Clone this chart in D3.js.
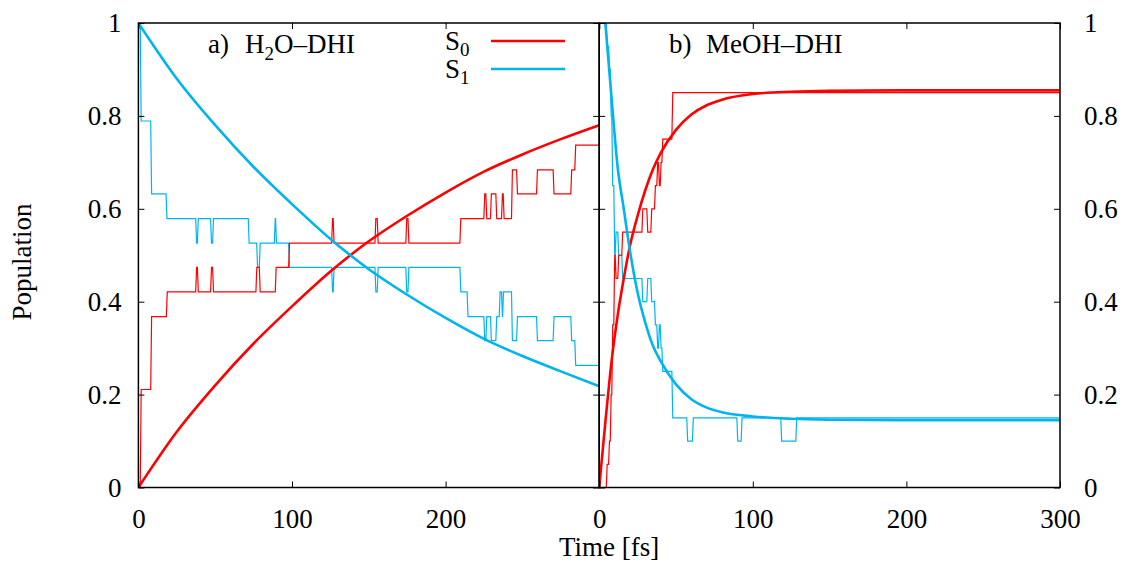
<!DOCTYPE html>
<html>
<head>
<meta charset="utf-8">
<script src="https://cdnjs.cloudflare.com/ajax/libs/d3/7.8.5/d3.min.js"></script>
<style>
body { margin: 0; background: #fff; }
svg text { font-family: "Liberation Serif", "DejaVu Serif", serif; fill: #000; }
</style>
</head>
<body>
<script>
// tick values
var timeTicks = [0, 100, 200, 300];
var popTicks = [0, 0.2, 0.4, 0.6, 0.8, 1];

// a) H2O-DHI : step populations, [time fs, new value]
var h2oS0Steps = [[0, 0], [1.2, 0.211], [8.0, 0.368], [18.2, 0.421], [37.3, 0.474], [38.4, 0.421],
    [47.0, 0.474], [48.3, 0.421], [76.5, 0.474], [78.7, 0.421], [89.1, 0.474], [97.8, 0.526],
    [125.8, 0.579], [126.8, 0.526], [154.0, 0.579], [155.5, 0.526], [174.1, 0.579], [175.5, 0.526],
    [209.3, 0.579], [224.9, 0.632], [226.2, 0.579], [229.2, 0.632], [232.7, 0.579], [236.4, 0.632],
    [237.5, 0.579], [242.9, 0.684], [246.2, 0.632], [259.2, 0.684], [270.0, 0.632], [281.5, 0.684],
    [284.1, 0.737]];
var h2oS1Steps = [[0, 1], [1.2, 0.789], [8.0, 0.632], [18.0, 0.579], [37.3, 0.526], [38.4, 0.579],
    [47.0, 0.526], [48.3, 0.579], [71.5, 0.526], [77.0, 0.474], [78.7, 0.526], [88.5, 0.579],
    [89.3, 0.526], [97.8, 0.474], [125.8, 0.421], [126.8, 0.474], [154.0, 0.421], [155.5, 0.474],
    [174.1, 0.421], [175.5, 0.474], [209.3, 0.421], [214.0, 0.368], [224.9, 0.316], [226.2, 0.368],
    [229.2, 0.316], [232.7, 0.368], [234.9, 0.421], [236.4, 0.368], [237.1, 0.421], [242.9, 0.316],
    [246.2, 0.368], [259.2, 0.316], [270.0, 0.368], [281.5, 0.316], [284.1, 0.263]];

// a) fitted curves
var h2oFitTime = [0, 25, 50, 75, 100, 125, 150, 175, 200, 225, 250, 275, 300];
var h2oS0Fit = [0, 0.12, 0.22, 0.31, 0.39, 0.465, 0.53, 0.585, 0.635, 0.68, 0.717, 0.75, 0.78];
var h2oS1Fit = [1.0, 0.88, 0.78, 0.69, 0.61, 0.535, 0.47, 0.415, 0.365, 0.32, 0.283, 0.25, 0.218];

// b) MeOH-DHI : step populations
var meohS0Steps = [[0, 0], [4.6, 0.05], [6.1, 0.1], [7.2, 0.2], [8.2, 0.35], [9.5, 0.5], [10.4, 0.45],
    [12.1, 0.5], [14.7, 0.55], [27.8, 0.6], [31.0, 0.55], [33.6, 0.6], [36.0, 0.65], [37.5, 0.7],
    [38.6, 0.65], [39.7, 0.7], [40.8, 0.75], [47.3, 0.85]];
var meohS1Steps = [[0, 1], [4.6, 0.95], [6.1, 0.9], [7.2, 0.8], [8.2, 0.65], [9.5, 0.5], [10.4, 0.55],
    [12.1, 0.5], [14.7, 0.45], [27.8, 0.4], [31.0, 0.45], [33.6, 0.4], [36.0, 0.35], [37.5, 0.3],
    [38.6, 0.35], [39.7, 0.3], [40.8, 0.25], [47.3, 0.15], [57.0, 0.1], [60.7, 0.15], [89.6, 0.1],
    [92.4, 0.15], [118.2, 0.1], [128.0, 0.15]];

// b) fitted curves
var meohFitTime = [0, 4, 8, 12, 16, 20, 25, 30, 35, 40, 50, 60, 70, 80, 100, 125, 150, 200, 300];
var meohS0Fit = [0, 0.14, 0.27, 0.37, 0.45, 0.52, 0.585, 0.64, 0.685, 0.72, 0.77, 0.803, 0.823, 0.835, 0.847, 0.852, 0.854, 0.855, 0.855];
var meohS1Fit = [1.15, 1.0, 0.84, 0.69, 0.6, 0.51, 0.42, 0.355, 0.305, 0.272, 0.222, 0.19, 0.172, 0.162, 0.153, 0.148, 0.146, 0.145, 0.145];

var width = 1124,
    height = 565;

var plotLeft = 138.4, plotMid = 599.2, plotRight = 1060,
    plotTop = 23, plotBottom = 487.5;

var red = "#ff0000",
    blue = "#00b4f0";

var serif = "'Liberation Serif', 'DejaVu Serif', serif";

var svg = d3.select("body").append("svg")
    .attr("width", width)
    .attr("height", height);

var y = d3.scaleLinear().domain([0, 1]).range([plotBottom, plotTop]);

var panels = [
    { id: "a", x0: plotLeft, x1: plotMid, s0: h2oS0Steps, s1: h2oS1Steps,
      fitT: h2oFitTime, f0: h2oS0Fit, f1: h2oS1Fit },
    { id: "b", x0: plotMid, x1: plotRight, s0: meohS0Steps, s1: meohS1Steps,
      fitT: meohFitTime, f0: meohS0Fit, f1: meohS1Fit }
];

// turn change points into a path with short ramps between levels
function stepPoints(steps, tEnd) {
    var ramp = 0.6;
    var pts = [steps[0]];
    for (var i = 1; i < steps.length; i++) {
        pts.push([steps[i][0], steps[i - 1][1]]);
        pts.push([steps[i][0] + ramp, steps[i][1]]);
    }
    pts.push([tEnd, steps[steps.length - 1][1]]);
    return pts;
}

panels.forEach(function (p) {
    var x = d3.scaleLinear().domain([0, 300]).range([p.x0, p.x1]);
    p.x = x;

    svg.append("clipPath")
        .attr("id", "clip-" + p.id)
        .append("rect")
        .attr("x", p.x0)
        .attr("y", plotTop)
        .attr("width", p.x1 - p.x0)
        .attr("height", plotBottom - plotTop);

    var g = svg.append("g").attr("clip-path", "url(#clip-" + p.id + ")");

    var line = d3.line()
        .x(function (d) { return x(d[0]); })
        .y(function (d) { return y(d[1]); });

    var smooth = d3.line()
        .x(function (d) { return x(d[0]); })
        .y(function (d) { return y(d[1]); })
        .curve(d3.curveMonotoneX);

    // thin step lines
    g.append("path")
        .attr("d", line(stepPoints(p.s1, 300)))
        .style("fill", "none")
        .style("stroke", blue)
        .style("stroke-width", 1.2);

    g.append("path")
        .attr("d", line(stepPoints(p.s0, 300)))
        .style("fill", "none")
        .style("stroke", red)
        .style("stroke-width", 1.2);

    // fits
    g.append("path")
        .attr("d", smooth(p.fitT.map(function (t, i) { return [t, p.f0[i]]; })))
        .style("fill", "none")
        .style("stroke", red)
        .style("stroke-width", 2.6);

    g.append("path")
        .attr("d", smooth(p.fitT.map(function (t, i) { return [t, p.f1[i]]; })))
        .style("fill", "none")
        .style("stroke", blue)
        .style("stroke-width", 2.6);
});

var xa = panels[0].x, xb = panels[1].x;
var tickLen = 6;

function styleAxis(sel) {
    sel.attr("font-family", serif).attr("font-size", 27);
    sel.select(".domain").remove();
    sel.selectAll("line").style("stroke", "#000").style("stroke-width", 1);
    sel.selectAll("text").style("font-family", serif).style("font-size", "27px");
}

// bottom axes
svg.append("g")
    .attr("transform", "translate(0," + plotBottom + ")")
    .call(d3.axisBottom(xa).tickValues(timeTicks).tickSize(-tickLen).tickPadding(21)
        .tickFormat(function (d) { return d === 300 ? "" : d; }))
    .call(styleAxis);

svg.append("g")
    .attr("transform", "translate(0," + plotBottom + ")")
    .call(d3.axisBottom(xb).tickValues(timeTicks).tickSize(-tickLen).tickPadding(21))
    .call(styleAxis);

// top ticks
[xa, xb].forEach(function (x) {
    svg.append("g")
        .attr("transform", "translate(0," + plotTop + ")")
        .call(d3.axisTop(x).tickValues(timeTicks).tickSize(-tickLen).tickFormat(""))
        .call(styleAxis);
});

// left axis
svg.append("g")
    .attr("transform", "translate(" + plotLeft + ",0)")
    .call(d3.axisLeft(y).tickValues(popTicks).tickSize(-tickLen).tickPadding(17)
        .tickFormat(function (d) { return String(d); }))
    .call(styleAxis);

// middle ticks, both sides
svg.append("g")
    .attr("transform", "translate(" + plotMid + ",0)")
    .call(d3.axisRight(y).tickValues(popTicks).tickSize(-tickLen).tickFormat(""))
    .call(styleAxis);
svg.append("g")
    .attr("transform", "translate(" + plotMid + ",0)")
    .call(d3.axisLeft(y).tickValues(popTicks).tickSize(-tickLen).tickFormat(""))
    .call(styleAxis);

// right axis
svg.append("g")
    .attr("transform", "translate(" + plotRight + ",0)")
    .call(d3.axisRight(y).tickValues(popTicks).tickSize(-tickLen).tickPadding(24)
        .tickFormat(function (d) { return String(d); }))
    .call(styleAxis);

// frames
panels.forEach(function (p) {
    svg.append("rect")
        .attr("x", p.x0)
        .attr("y", plotTop)
        .attr("width", p.x1 - p.x0)
        .attr("height", plotBottom - plotTop)
        .style("fill", "none")
        .style("stroke", "#000")
        .style("stroke-width", 1.5);
});

// axis titles
svg.append("text")
    .attr("x", plotMid + 10)
    .attr("y", 556)
    .attr("text-anchor", "middle")
    .style("font-size", "27px")
    .text("Time [fs]");

svg.append("text")
    .attr("transform", "translate(31,262) rotate(-90)")
    .attr("text-anchor", "middle")
    .style("font-size", "27px")
    .text("Population");

// panel labels
svg.append("text").attr("x", 208).attr("y", 53).style("font-size", "27px").text("a)");
var ta = svg.append("text").attr("x", 245).attr("y", 53).style("font-size", "27px");
ta.append("tspan").text("H");
ta.append("tspan").attr("dy", 7).style("font-size", "19px").text("2");
ta.append("tspan").attr("dy", -7).text("O\u2013DHI");

svg.append("text").attr("x", 669).attr("y", 53).style("font-size", "27px").text("b)");
svg.append("text").attr("x", 706).attr("y", 53).style("font-size", "27px").text("MeOH\u2013DHI");

// legend
var legend = [
    { label: "0", color: red, yy: 50, ly: 41 },
    { label: "1", color: blue, yy: 78, ly: 69 }
];
legend.forEach(function (d) {
    var t = svg.append("text").attr("x", 445).attr("y", d.yy).style("font-size", "27px");
    t.append("tspan").text("S");
    t.append("tspan").attr("dy", 6).style("font-size", "19px").text(d.label);
    svg.append("line")
        .attr("x1", 491).attr("x2", 565)
        .attr("y1", d.ly).attr("y2", d.ly)
        .style("stroke", d.color)
        .style("stroke-width", 2.6);
});
</script>
</body>
</html>
